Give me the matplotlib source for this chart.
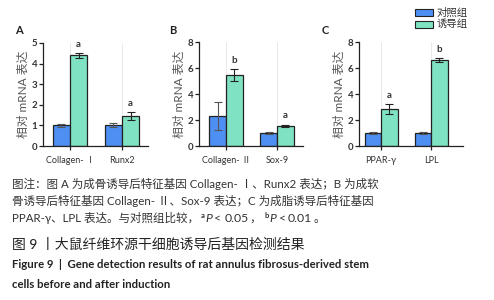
import matplotlib
matplotlib.use("Agg")
import matplotlib.pyplot as plt
from matplotlib.patches import Rectangle
import numpy as np

plt.rcParams['font.family'] = ['Lato', 'Noto Sans CJK SC', 'DejaVu Sans']

# ---- data ----
genes_A = ["Collagen- Ⅰ", "Runx2"]
ctrl_A = [1.0, 1.0]
ctrl_err_A = [0.08, 0.1]
ind_A = [4.4, 1.45]
ind_err_A = [0.12, 0.2]
sig_A = ["a", "a"]

genes_B = ["Collagen- Ⅱ", "Sox-9"]
ctrl_B = [2.3, 1.0]
ctrl_err_B = [1.1, 0.07]
ind_B = [5.45, 1.55]
ind_err_B = [0.45, 0.1]
sig_B = ["b", "a"]

genes_C = ["PPAR-γ", "LPL"]
ctrl_C = [1.0, 1.0]
ctrl_err_C = [0.04, 0.05]
ind_C = [2.85, 6.6]
ind_err_C = [0.4, 0.15]
sig_C = ["a", "b"]

legend_labels = ["对照组", "诱导组"]
ylabel = "相对 mRNA 表达"

W, H = 494, 300
fig = plt.figure(figsize=(W / 100, H / 100), dpi=100)
renderer = fig.canvas.get_renderer()

blue = "#4e8ff3"
green = "#7fe2c3"
dark = "#333333"


def px_axes(left, right, top, bottom):
    return fig.add_axes([left / W, (H - bottom) / H, (right - left) / W, (bottom - top) / H])


def panel(ax, genes, ctrl, cerr, ind, ierr, sig, ymax, ystep, xlim):
    x = np.arange(len(genes))
    w = 0.33
    ax.bar(x - w / 2, ctrl, w, color=blue, edgecolor="#222222", linewidth=0.9, zorder=2)
    ax.bar(x + w / 2, ind, w, color=green, edgecolor="#222222", linewidth=0.9, zorder=2)
    ax.errorbar(x - w / 2, ctrl, yerr=cerr, fmt="none", ecolor="#555555", elinewidth=0.8,
                capsize=3, capthick=0.8, zorder=3)
    ax.errorbar(x + w / 2, ind, yerr=ierr, fmt="none", ecolor="#222222", elinewidth=0.8,
                capsize=3, capthick=0.8, zorder=3)
    for xi, v, e, s in zip(x, ind, ierr, sig):
        ax.text(xi + w / 2, v + e + ymax * 0.04, s, ha="center", va="bottom",
                fontsize=7, fontweight="bold", color=dark)
    for xi in x:
        ax.axvline(xi, color="#e6e6e6", lw=0.6, zorder=0)
    ax.set_ylim(0, ymax)
    ax.set_xlim(*xlim)
    ax.set_yticks(np.arange(0, ymax + 0.01, ystep))
    ax.set_xticks(x)
    ax.set_xticklabels(genes, fontsize=6.5, color=dark)
    ax.spines["top"].set_visible(False)
    ax.spines["right"].set_visible(False)
    for sp in ("left", "bottom"):
        ax.spines[sp].set_linewidth(0.9)
        ax.spines[sp].set_color("#222222")
    ax.tick_params(axis="y", labelsize=7, length=3, width=0.9, pad=1, colors="#222222")
    ax.tick_params(axis="x", direction="inout", length=6, width=0.9, pad=4, colors="#222222")
    for t in ax.get_yticklabels():
        t.set_fontweight("bold")
        t.set_color(dark)
    for t in ax.get_xticklabels():
        t.set_color(dark)
    ax.set_ylabel(ylabel, fontsize=8.5, color="#555555", labelpad=2)
    ax.patch.set_alpha(0)


axA = px_axes(43, 148, 43, 146)
panel(axA, genes_A, ctrl_A, ctrl_err_A, ind_A, ind_err_A, sig_A, 5, 1, (-0.52, 1.5))
axB = px_axes(199, 303, 42, 146)
panel(axB, genes_B, ctrl_B, ctrl_err_B, ind_B, ind_err_B, sig_B, 8, 2, (-0.53, 1.51))
axC = px_axes(359, 463, 42, 146)
panel(axC, genes_C, ctrl_C, ctrl_err_C, ind_C, ind_err_C, sig_C, 8, 2, (-0.44, 1.64))

# panel letters
for lx, lt in [(19, "A"), (173, "B"), (325, "C")]:
    fig.text(lx / W, 1 - 31 / H, lt, ha="center", va="center", fontsize=8,
             fontweight="bold", color="#222222")

# legend
for i, (lab, col) in enumerate(zip(legend_labels, [blue, green])):
    yc = 12.5 + i * 12
    fig.patches.append(Rectangle((415 / W, 1 - (yc + 3.5) / H), 18 / W, 7 / H,
                                 transform=fig.transFigure, facecolor=col,
                                 edgecolor="#222222", linewidth=0.8))
    fig.text(437 / W, 1 - yc / H, lab, ha="left", va="center", fontsize=7.5, color="#333333")

# caption
cap_color = "#333333"
fs = 8.3


def seq_text(x_px, y_px, pieces):
    """Draw text pieces one after another on a baseline (pixel coords from top-left)."""
    x = x_px
    for s, kw in pieces:
        kw = dict(kw)
        dy = kw.pop("dy", 0)
        gap = kw.pop("gap", 0)
        x += gap
        t = fig.text(x / W, 1 - (y_px - dy) / H, s, ha="left", va="baseline",
                     color=cap_color, **kw)
        bb = t.get_window_extent(renderer)
        x += bb.width


seq_text(12, 188, [("图注：图 A 为成骨诱导后特征基因 Collagen- Ⅰ、Runx2 表达；B 为成软",
                    dict(fontsize=fs))])
seq_text(12, 205, [("骨诱导后特征基因 Collagen- Ⅱ、Sox-9 表达；C 为成脂诱导后特征基因",
                    dict(fontsize=fs))])
num = dict(fontsize=8.8)
seq_text(12, 222, [
    ("PPAR-γ、LPL 表达。与对照组比较，", dict(fontsize=fs)),
    ("a", dict(fontsize=5.5, dy=4.5, fontweight="bold", gap=2)),
    ("P", dict(fontsize=8.8, style="italic", gap=1)),
    ("<", dict(num, gap=1.5)),
    ("0.05", dict(num, gap=3)),
    ("，", dict(fontsize=fs, gap=1)),
    ("b", dict(fontsize=5.5, dy=4.5, fontweight="bold", gap=3)),
    ("P", dict(fontsize=8.8, style="italic", gap=1)),
    ("<", dict(num, gap=3)),
    ("0.01", dict(num, gap=1.5)),
    ("。", dict(fontsize=fs, gap=1)),
])

fig.text(12 / W, 1 - 244 / H, "图 9 丨大鼠纤维环源干细胞诱导后基因检测结果",
         ha="left", va="center", fontsize=10, color="#222222", fontweight="medium")
fig.text(12 / W, 1 - 264 / H,
         "Figure 9  |  Gene detection results of rat annulus fibrosus-derived stem",
         ha="left", va="center", fontsize=8.2, color="#222222", fontweight="bold")
fig.text(12 / W, 1 - 284 / H, "cells before and after induction",
         ha="left", va="center", fontsize=8.2, color="#222222", fontweight="bold")

fig.savefig("out.png", dpi=100)
